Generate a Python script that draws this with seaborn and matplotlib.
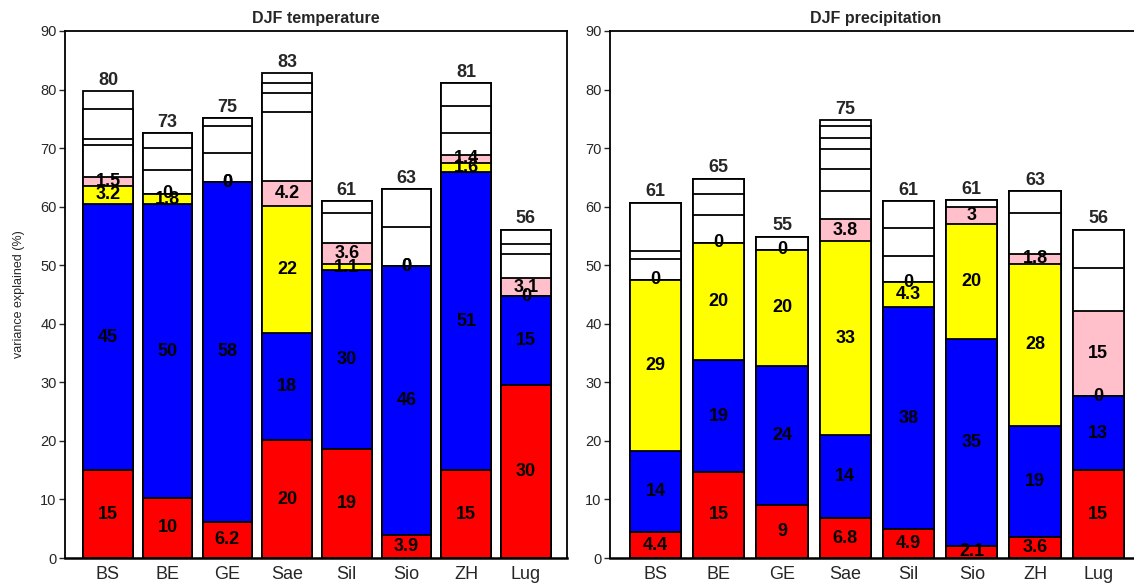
import numpy as np
import pandas as pd
import matplotlib
matplotlib.use('Agg')
import matplotlib.pyplot as plt
import seaborn as sns

stations = ['BS', 'BE', 'GE', 'Sae', 'Sil', 'Sio', 'ZH', 'Lug']

# DJF temperature
t_red = [15.0, 10.3, 6.2, 20.1, 18.7, 3.9, 15.0, 29.6]
t_blue = [45.4, 50.1, 58.0, 18.3, 30.4, 45.9, 50.9, 15.1]
t_yellow = [3.2, 1.8, 0.0, 21.7, 1.1, 0.0, 1.6, 0.0]
t_pink = [1.5, 0.0, 0.0, 4.2, 3.6, 0.0, 1.4, 3.1]
t_white = [[5.5, 1.0, 5.1, 3.1], [4.1, 3.7, 2.6], [4.9, 4.6, 1.4],
           [11.9, 3.2, 1.8, 1.6], [5.1, 2.0], [6.7, 6.5],
           [3.6, 4.7, 3.9], [4.2, 1.7, 2.4]]

# DJF precipitation
p_red = [4.4, 14.7, 9.0, 6.8, 4.9, 2.1, 3.6, 15.0]
p_blue = [13.9, 19.1, 23.8, 14.2, 37.9, 35.3, 19.0, 12.6]
p_yellow = [29.2, 20.0, 19.8, 33.1, 4.3, 19.6, 27.6, 0.0]
p_pink = [0.0, 0.0, 0.0, 3.8, 0.0, 3.0, 1.8, 14.6]
p_white = [[3.6, 1.4, 8.2], [4.8, 3.6, 2.6], [2.3],
           [4.7, 3.9, 3.3, 1.9, 2.1, 1.0], [4.4, 4.9, 4.5], [1.1],
           [7.0, 3.6], [7.4, 6.5]]

titles = ['DJF temperature', 'DJF precipitation']
ylabel = 'variance explained (%)'
yticks = list(range(0, 91, 10))

sns.set_theme(style='ticks')
plt.rcParams['font.family'] = ['Liberation Sans', 'DejaVu Sans']

fig = plt.figure(figsize=(11.34, 5.85), dpi=100)
ax1 = fig.add_axes([65 / 1134, 27 / 585, 502 / 1134, 527 / 585])
ax2 = fig.add_axes([610 / 1134, 27 / 585, 532 / 1134, 527 / 585])

seg_colors = ['#ff0000', '#0000ff', '#ffff00', '#ffc0cb']


def draw(ax, red, blue, yellow, pink, whites, title, width):
    named = [np.array(s, float) for s in (red, blue, yellow, pink)]
    nwhite = max(len(w) for w in whites)
    layers = list(named)
    for k in range(nwhite):
        layers.append(np.array([w[k] if k < len(w) else 0.0 for w in whites]))
    layers = np.array(layers)
    cum = np.cumsum(layers, axis=0)
    colors = seg_colors + ['white'] * nwhite
    for k in range(len(layers) - 1, -1, -1):
        df = pd.DataFrame({'station': stations, 'v': cum[k]})
        sns.barplot(data=df, x='station', y='v', order=stations,
                    color=colors[k], saturation=1, width=width,
                    edgecolor='black', linewidth=1.3, errorbar=None, ax=ax)
    for k in range(4):
        for i in range(len(stations)):
            yc = cum[k, i] - layers[k, i] / 2
            ax.text(i, yc, '%.2g' % layers[k, i], ha='center', va='center',
                    fontsize=13, fontweight='bold', color='black')
    totals = cum[-1]
    for i, tot in enumerate(totals):
        ax.annotate('%.0f' % tot, (i, tot), xytext=(0, 1.5),
                    textcoords='offset points', ha='center', va='bottom',
                    fontsize=13, fontweight='bold')
    ax.set_xlim(-0.72, 7.69)
    ax.set_ylim(0, 90)
    ax.set_yticks(yticks)
    ax.set_xlabel('')
    ax.set_ylabel('')
    ax.set_title(title, fontsize=11.5, fontweight='bold', pad=6)
    ax.tick_params(axis='x', length=0, labelsize=13, pad=6)
    ax.tick_params(axis='y', length=4, width=1, direction='out',
                   labelsize=10.5, pad=2)
    for s in ax.spines.values():
        s.set_visible(True)
        s.set_color('black')
        s.set_linewidth(1.3)
    ax.spines['bottom'].set_linewidth(1.8)


draw(ax1, t_red, t_blue, t_yellow, t_pink, t_white, titles[0], 0.83)
draw(ax2, p_red, p_blue, p_yellow, p_pink, p_white, titles[1], 0.81)
ax1.set_ylabel(ylabel, fontsize=9)
ax1.yaxis.set_label_coords(-40 / 502, 0.5)

fig.savefig('out.png', dpi=100)
